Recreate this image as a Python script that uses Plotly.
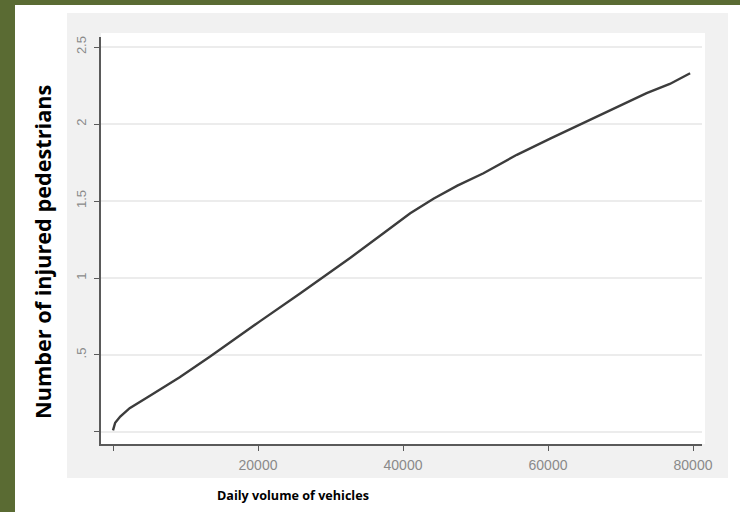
import plotly.graph_objects as go

# Data
volume = [0, 300, 1000, 2300, 5100, 9200, 13400, 17500, 20300, 25800, 30000,
          32700, 37300, 41000, 44200, 47500, 51100, 55700, 60300, 65300,
          69900, 73600, 76800, 79600]
injured = [0.01, 0.06, 0.10, 0.155, 0.235, 0.355, 0.49, 0.63, 0.72, 0.90, 1.04,
           1.13, 1.29, 1.42, 1.515, 1.60, 1.68, 1.80, 1.905, 2.015,
           2.12, 2.20, 2.26, 2.33]

y_tickvals = [0, 0.5, 1, 1.5, 2, 2.5]
y_ticktext = ["", ".5", "1", "1.5", "2", "2.5"]
x_tickvals = [0, 20000, 40000, 60000, 80000]
x_ticktext = ["", "20000", "40000", "60000", "80000"]

W, H = 740, 512
L, R, T, B = 101, 38, 37, 68
PW, PH = W - L - R, H - T - B


def px_x(p):
    return (p - L) / PW


def px_y(p):
    return (H - B - p) / PH


fig = go.Figure()
fig.add_trace(go.Scatter(x=volume, y=injured, mode="lines",
                         line=dict(color="#3c3c3c", width=2.4),
                         hoverinfo="skip", showlegend=False))

shapes = [
    # light grey graph region
    dict(type="rect", xref="paper", yref="paper", layer="below",
         x0=px_x(67), x1=px_x(728), y0=px_y(478), y1=px_y(13),
         fillcolor="#f1f1f1", line=dict(width=0)),
    # white inner plot region
    dict(type="rect", xref="paper", yref="paper", layer="below",
         x0=px_x(101), x1=px_x(705), y0=px_y(444), y1=px_y(33),
         fillcolor="#ffffff", line=dict(width=0)),
    # green frame strips
    dict(type="rect", xref="paper", yref="paper", layer="below",
         x0=px_x(0), x1=px_x(15), y0=px_y(512), y1=px_y(0),
         fillcolor="#5a6b33", line=dict(width=0)),
    dict(type="rect", xref="paper", yref="paper", layer="below",
         x0=px_x(0), x1=px_x(740), y0=px_y(5), y1=px_y(0),
         fillcolor="#5a6b33", line=dict(width=0)),
]

annotations = [
    dict(text="<b>Number of injured pedestrians</b>", xref="paper", yref="paper",
         x=px_x(42), y=px_y(252), textangle=-90, showarrow=False,
         font=dict(family="Open Sans", size=21.7, color="#000000"),
         xanchor="center", yanchor="middle"),
    dict(text="<b>Daily volume of vehicles</b>", xref="paper", yref="paper",
         x=px_x(293), y=px_y(495), showarrow=False,
         font=dict(family="Open Sans", size=12.6, color="#000000"),
         xanchor="center", yanchor="middle"),
]

fig.update_layout(
    width=W, height=H,
    margin=dict(l=L, r=R, t=T, b=B, autoexpand=False),
    paper_bgcolor="#ffffff", plot_bgcolor="#ffffff",
    shapes=shapes, annotations=annotations, showlegend=False,
    xaxis=dict(range=[-1655, 81240], tickvals=x_tickvals, ticktext=x_ticktext,
               showgrid=False, zeroline=False, showline=True,
               linecolor="#5a5a5a", linewidth=1.5,
               ticks="outside", ticklen=5, tickcolor="#5a5a5a",
               ticklabelstandoff=2,
               tickfont=dict(family="Liberation Sans", size=14, color="#8a8a8a")),
    yaxis=dict(range=[-0.078, 2.565], tickvals=y_tickvals, ticktext=y_ticktext,
               showgrid=True, gridcolor="#ececec", gridwidth=2,
               zeroline=False, showline=True,
               linecolor="#5a5a5a", linewidth=1.5,
               ticks="outside", ticklen=5, tickcolor="#5a5a5a",
               tickangle=-90, ticklabelstandoff=3,
               tickfont=dict(family="Liberation Sans", size=13, color="#8a8a8a")),
)

fig.write_html("out.html", config={"displayModeBar": False},
               post_script="document.body.style.margin='0';document.body.style.overflow='hidden';")
